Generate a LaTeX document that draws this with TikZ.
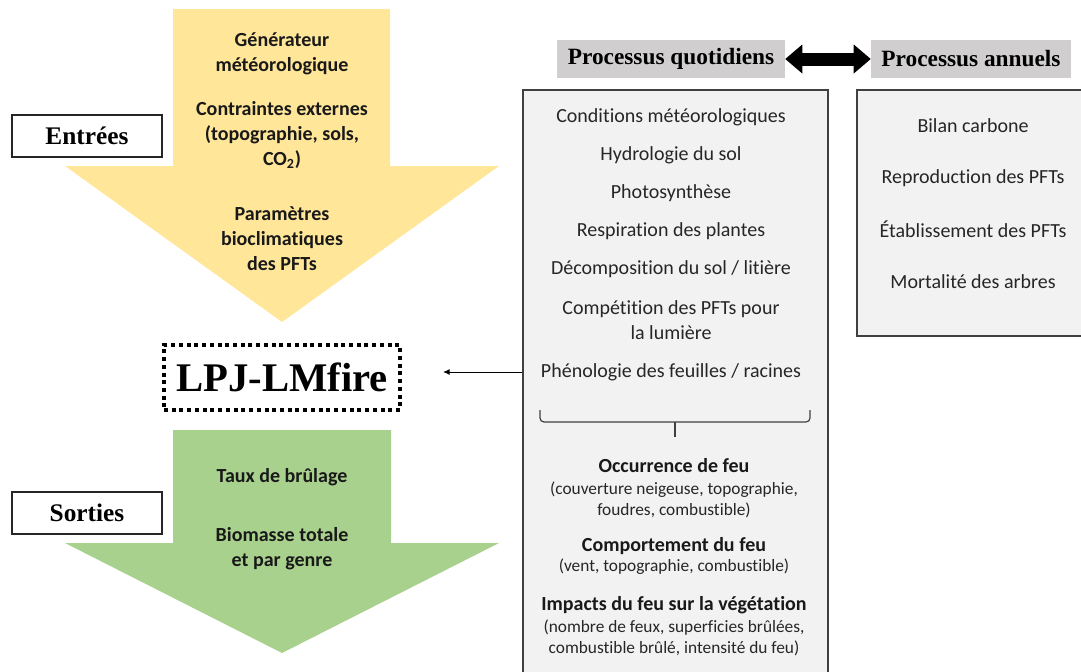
\documentclass[tikz,border=0pt]{standalone}
\usepackage{fontspec}
\setmainfont{Carlito}[Ligatures=NoCommon]
\newfontfamily\lserif{Liberation Serif}
\usetikzlibrary{arrows.meta,calc}
\definecolor{yel}{HTML}{FFE699}
\definecolor{grn}{HTML}{A9D18E}
\definecolor{hdr}{HTML}{D0CECE}
\definecolor{boxfill}{HTML}{F2F2F2}
\definecolor{edge}{HTML}{404040}
\definecolor{txt}{HTML}{262626}
\begin{document}
\begin{tikzpicture}[x=0.75pt,y=-0.75pt,
  labelbox/.style={draw=black!85, line width=1.1pt, fill=white, minimum width=112.5pt, minimum height=31.5pt, inner sep=0pt, font=\lserif\bfseries\fontsize{19}{22}\selectfont},
  arrowtxt/.style={align=center, inner sep=0pt, text=black!90, font=\bfseries\fontsize{15}{18.75}\selectfont},
  hdrbox/.style={fill=hdr, minimum height=28.5pt, inner sep=0pt, font=\lserif\bfseries\fontsize{17.5}{20}\selectfont},
  procbox/.style={draw=edge, fill=boxfill, line width=1.1pt, inner sep=0pt},
  itemtxt/.style={align=center, inner sep=0pt, text=txt, font=\fontsize{15}{18.75}\selectfont},
  firetitle/.style={align=center, inner sep=0pt, text=black!90, font=\bfseries\fontsize{15}{18.75}\selectfont},
  firesub/.style={align=center, inner sep=0pt, text=txt, font=\fontsize{13}{15.75}\selectfont}
]
\clip (0,0) rectangle (1081,671);
% big arrows
\fill[yel] (173,9) -- (390,9) -- (390,166) -- (499,166) -- (282,322) -- (65,166) -- (173,166) -- cycle;
\fill[grn] (173,430) -- (391,430) -- (391,543) -- (499,543) -- (282,653) -- (65,543) -- (173,543) -- cycle;

\node[labelbox] (entrees) at (87,136) {Entrées};
\node[labelbox] (sorties) at (87,513) {Sorties};

\node[arrowtxt] (gen) at (282,53.5) {Générateur\\météorologique};
\node[arrowtxt] (contr) at (282,135) {Contraintes externes\\(topographie, sols,\\CO\textsubscript{2})};
\node[arrowtxt] (param) at (282,239) {Paramètres\\bioclimatiques\\des PFTs};
\node[arrowtxt] (taux) at (282,477) {Taux de brûlage};
\node[arrowtxt] (bio) at (282,548.5) {Biomasse totale\\et par genre};

\node[draw=black, line width=3pt, dash pattern=on 3pt off 2.8pt, minimum width=177pt, minimum height=48.75pt, inner sep=0pt, font=\lserif\bfseries\fontsize{30.5}{34}\selectfont] (lpj) at (282,377.5) {LPJ-LMfire};

% headers
\node[hdrbox, minimum width=171pt] (hq) at (671,59) {Processus quotidiens};
\node[hdrbox, minimum width=150pt] (ha) at (971,59) {Processus annuels};
\draw[line width=9.75pt, {Triangle[length=12.75pt,width=21.75pt,line width=0pt]}-{Triangle[length=12.75pt,width=21.75pt,line width=0pt]}] (hq.east) -- (ha.west);

% process boxes
\node[procbox, minimum width=228.75pt, minimum height=450pt] (daily) at (675.5,390) {};
\node[procbox, minimum width=174.75pt, minimum height=184.5pt] (annual) at (973.5,213) {};

\node[itemtxt] (c1) at (671,117) {Conditions météorologiques};
\node[itemtxt] (c2) at (671,155) {Hydrologie du sol};
\node[itemtxt] (c3) at (671,193) {Photosynthèse};
\node[itemtxt] (c4) at (671,231) {Respiration des plantes};
\node[itemtxt] (c5) at (671,269) {Décomposition du sol / litière};
\node[itemtxt] (c6) at (671,320.5) {Compétition des PFTs pour\\la lumière};
\node[itemtxt] (c7) at (671,372) {Phénologie des feuilles / racines};

\node[itemtxt] (a1) at (973,126) {Bilan carbone};
\node[itemtxt] (a2) at (973,178) {Reproduction des PFTs};
\node[itemtxt] (a3) at (973,229) {Établissement des PFTs};
\node[itemtxt] (a4) at (973,282) {Mortalité des arbres};

% brace
\draw[edge, line width=0.9pt, rounded corners=3pt] (540,410) -- (540,422) -- (810,422) -- (810,410);
\draw[edge, line width=0.9pt] (675,422) -- (675,437);

\node[firetitle] (f1) at (674,466) {Occurrence de feu};
\node[firesub] (f1s) at (674,499.5) {(couverture neigeuse, topographie,\\foudres, combustible)};
\node[firetitle] (f2) at (674,546) {Comportement du feu};
\node[firesub] (f2s) at (674,567) {(vent, topographie, combustible)};
\node[firetitle] (f3) at (674,605) {Impacts du feu sur la végétation};
\node[firesub] (f3s) at (674,637.5) {(nombre de feux, superficies brûlées,\\combustible brûlé, intensité du feu)};

% link to model
\coordinate (tipL) at (443,372);
\draw[line width=0.75pt, -{Latex[length=5pt,width=4.5pt]}] (daily.west |- tipL) -- (tipL);
\end{tikzpicture}
\end{document}
